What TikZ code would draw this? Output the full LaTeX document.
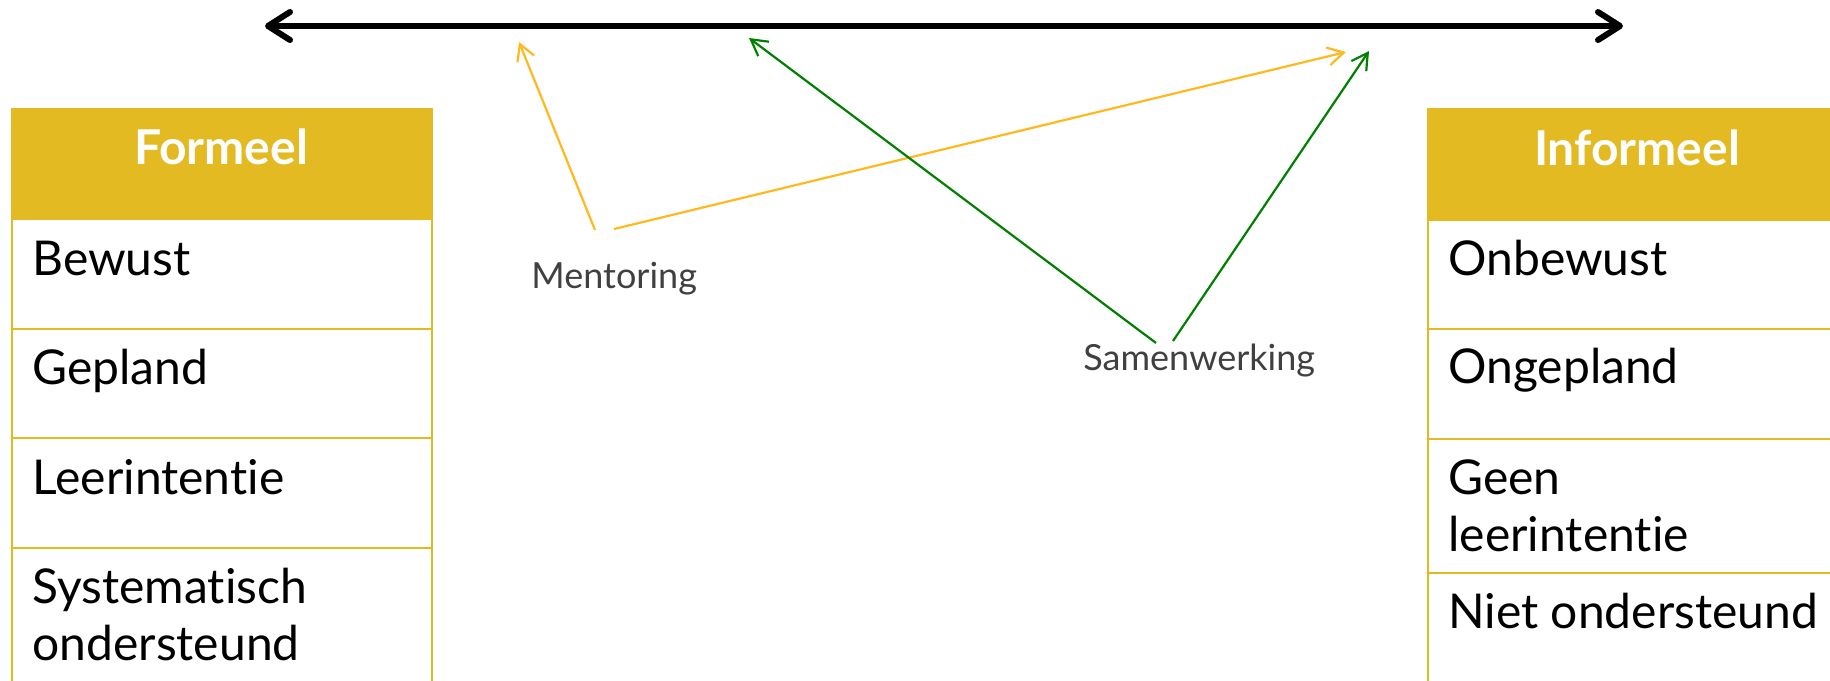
\documentclass[tikz,border=0pt]{standalone}
\usepackage{fontspec}
\setmainfont{Lato}[Ligatures=NoCommon]
\usetikzlibrary{arrows.meta}
\definecolor{gold}{RGB}{228,186,34}
\definecolor{ylw}{RGB}{255,184,30}
\definecolor{grn}{RGB}{0,128,0}
\definecolor{lbl}{RGB}{64,64,64}
\begin{document}
\begin{tikzpicture}[x=0.5pt,y=-0.5pt,
  cell/.style={draw=gold, line width=1.2pt, minimum width=210pt, inner sep=0pt, anchor=north west},
  head/.style={cell, fill=gold, minimum height=55pt},
  htext/.style={anchor=base, inner sep=0pt, text=white, font=\fontsize{24}{28}\selectfont\bfseries},
  item/.style={anchor=base west, inner sep=0pt, font=\fontsize{24}{28}\selectfont},
  lab/.style={anchor=base west, inner sep=0pt, text=lbl, font=\fontsize{18}{22}\selectfont},
  ylwarrow/.style={draw=ylw, line width=1.1pt, -{Straight Barb[length=8pt,width=9pt]}},
  grnarrow/.style={draw=grn, line width=1.1pt, -{Straight Barb[length=8pt,width=9pt]}},
  axis/.style={draw=black, line width=3pt, line cap=round, {Straight Barb[round,length=11pt,width=14pt]}-{Straight Barb[round,length=11pt,width=14pt]}}
]
\useasboundingbox (0,0) rectangle (1830,680);
\clip (0,0) rectangle (1830,680);

% Left table
\node[head] (fh) at (11,108) {};
\node[cell, minimum height=55pt] (f1) at (11,218) {};
\node[cell, minimum height=54.5pt] (f2) at (11,328) {};
\node[cell, minimum height=55pt] (f3) at (11,437) {};
\node[cell, minimum height=90pt] (f4) at (11,547) {};
\node[htext] (fht) at (221,164) {Formeel};
\node[item] (ft1) at (32,275) {Bewust};
\node[item] (ft2) at (32,384) {Gepland};
\node[item] (ft3) at (32,494) {Leerintentie};
\node[item] (ft4a) at (32,603) {Systematisch};
\node[item] (ft4b) at (32,660) {ondersteund};

% Right table
\node[head] (ih) at (1427,108) {};
\node[cell, minimum height=54.5pt] (i1) at (1427,219) {};
\node[cell, minimum height=55pt] (i2) at (1427,328) {};
\node[cell, minimum height=67pt] (i3) at (1427,438) {};
\node[cell, minimum height=80pt] (i4) at (1427,572) {};
\node[htext] (iht) at (1637,165) {Informeel};
\node[item] (it1) at (1448,275) {Onbewust};
\node[item] (it2) at (1448,383) {Ongepland};
\node[item] (it3a) at (1448,494) {Geen};
\node[item] (it3b) at (1448,551) {leerintentie};
\node[item] (it4) at (1448,628) {Niet ondersteund};

% Axis
\coordinate (axl) at (265,26);
\coordinate (axr) at (1623,26);
\draw[axis] (axl) -- (axr);

% Labels
\node[lab] (ment) at (531,288) {Mentoring};
\node[lab] (samen) at (1083,370) {Samenwerking};

% Arrow end points
\coordinate (m1) at (595,230);
\coordinate (m2) at (614,229);
\coordinate (tm1) at (519,42);
\coordinate (tm2) at (1346,52);
\coordinate (s1) at (1156,343);
\coordinate (s2) at (1173,341);
\coordinate (ts1) at (749,38);
\coordinate (ts2) at (1369,51);

\draw[ylwarrow] (m1) -- (tm1);
\draw[ylwarrow] (m2) -- (tm2);
\draw[grnarrow] (s1) -- (ts1);
\draw[grnarrow] (s2) -- (ts2);
\end{tikzpicture}
\end{document}
